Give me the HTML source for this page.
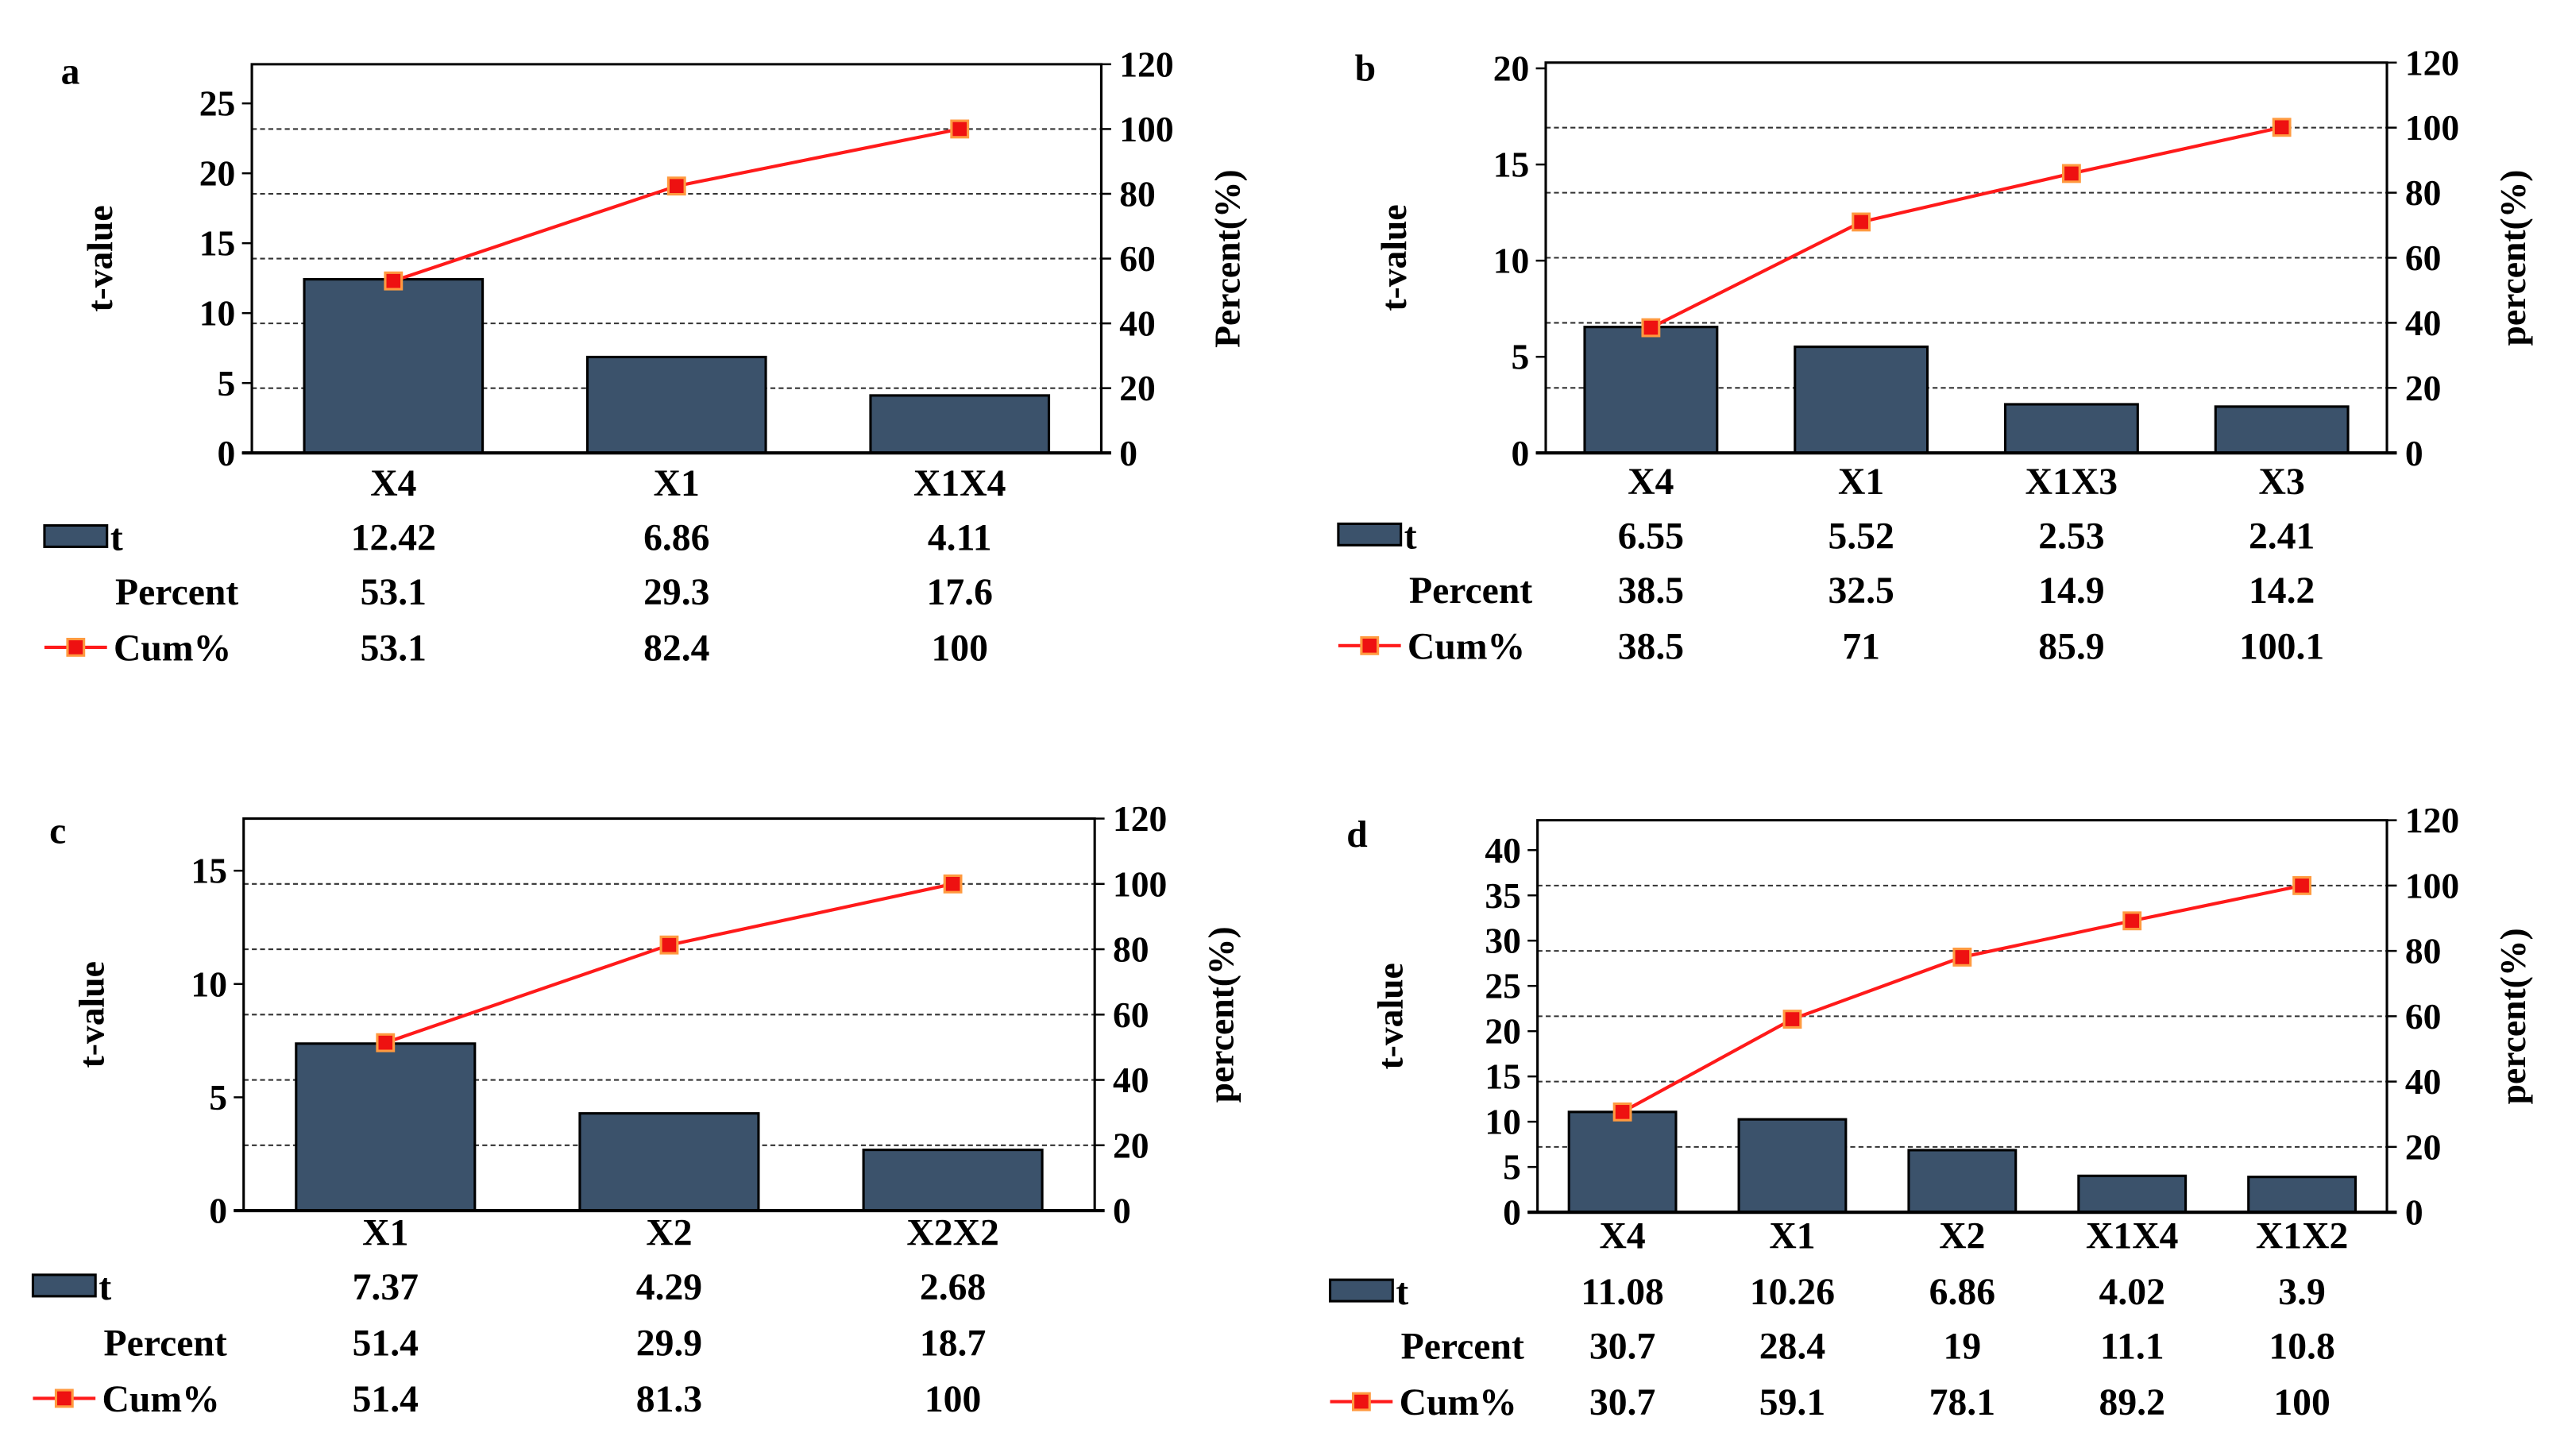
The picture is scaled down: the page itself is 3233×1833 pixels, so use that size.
<!DOCTYPE html>
<html><head><meta charset="utf-8"><style>
html,body{margin:0;padding:0;background:#fff;}
svg{display:block;}
text{font-family:"Liberation Serif",serif;font-weight:bold;fill:#000;}
</style></head><body>
<svg id="fig" width="3233" height="1833" viewBox="0 0 1560 884" preserveAspectRatio="none" xmlns="http://www.w3.org/2000/svg"></svg>
<script>
// Panel a data
const catsA = ["X4","X1","X1X4"];
const tA = [12.42,6.86,4.11];
const pctA = ["53.1","29.3","17.6"];
const cumA = [53.1,82.4,100];
const cumLblA = ["53.1","82.4","100"];
const leftTicksA = [0,5,10,15,20,25];
// Panel b data
const catsB = ["X4","X1","X1X3","X3"];
const tB = [6.55,5.52,2.53,2.41];
const pctB = ["38.5","32.5","14.9","14.2"];
const cumB = [38.5,71,85.9,100.1];
const cumLblB = ["38.5","71","85.9","100.1"];
const leftTicksB = [0,5,10,15,20];
// Panel c data
const catsC = ["X1","X2","X2X2"];
const tC = [7.37,4.29,2.68];
const pctC = ["51.4","29.9","18.7"];
const cumC = [51.4,81.3,100];
const cumLblC = ["51.4","81.3","100"];
const leftTicksC = [0,5,10,15];
// Panel d data
const catsD = ["X4","X1","X2","X1X4","X1X2"];
const tD = [11.08,10.26,6.86,4.02,3.9];
const pctD = ["30.7","28.4","19","11.1","10.8"];
const cumD = [30.7,59.1,78.1,89.2,100];
const cumLblD = ["30.7","59.1","78.1","89.2","100"];
const leftTicksD = [0,5,10,15,20,25,30,35,40];
const rightTicks = [0,20,40,60,80,100,120];

const NS="http://www.w3.org/2000/svg";
const svg=document.getElementById('fig');
function mk(tag,attrs,parent){const e=document.createElementNS(NS,tag);for(const k in attrs)e.setAttribute(k,attrs[k]);(parent||svg).appendChild(e);return e;}
function txt(s,attrs,parent){const e=mk('text',attrs,parent);e.textContent=s;return e;}

function panel(id,g,cats,tv,pct,cum,cumLbl,lticks,rlabel){
  const G=mk('g',{});
  
  
  const L=g.L,R=g.R,T=g.T,B=g.B;
  const yl=v=>B-(v/g.lmax)*(B-T);
  const yr=v=>B-(v/120)*(B-T);
  const bw=(R-L)/cats.length;
  const xc=i=>L+bw*(i+0.5);
  rightTicks.forEach(v=>{if(v>0&&v<120){const l=mk('line',{x1:L,x2:R,y1:yr(v),y2:yr(v),stroke:'#333','stroke-width':1,'stroke-dasharray':'3,2'},G);
    }});
  tv.forEach((v,i)=>{const w=bw*0.63;const r=mk('rect',{x:xc(i)-w/2,y:yl(v),width:w,height:B-yl(v),fill:'#3b526b',stroke:'#000','stroke-width':1.5},G);
    });
  mk('polyline',{points:`${L},${B} ${L},${T} ${R},${T} ${R},${B}`,fill:'none',stroke:'#000','stroke-width':1.5},G);
  mk('line',{x1:L-6,x2:R+6,y1:B,y2:B,stroke:'#000','stroke-width':2},G);
  lticks.forEach(v=>{mk('line',{x1:L-6,x2:L,y1:yl(v),y2:yl(v),stroke:'#000','stroke-width':1.2},G);
    const t=txt(String(v),{x:L-10,y:yl(v)+7.5,'text-anchor':'end','font-size':22},G);
    });
  rightTicks.forEach(v=>{mk('line',{x1:R,x2:R+6,y1:yr(v),y2:yr(v),stroke:'#000','stroke-width':1.2},G);
    const t=txt(String(v),{x:R+11,y:yr(v)+7.5,'text-anchor':'start','font-size':22},G);
    });
  const ym=(T+B)/2;
  const lt=txt('t-value',{x:g.ltx,y:ym,'text-anchor':'middle','font-size':22,transform:`rotate(-90 ${g.ltx} ${ym})`},G);
  
  const rx=R+84;
  const rt=txt(rlabel,{x:rx,y:ym,'text-anchor':'middle','font-size':22,transform:`rotate(-90 ${rx} ${ym})`},G);
  
  const pl=txt(id,{x:g.lx,y:g.ly,'font-size':23},G);
  
  const pts=cum.map((v,i)=>`${xc(i)},${yr(v)}`).join(' ');
  const ln=mk('polyline',{points:pts,fill:'none',stroke:'#ff1a1a','stroke-width':2},G);
  
  cum.forEach((v,i)=>{const m=mk('rect',{x:xc(i)-5,y:yr(v)-5,width:10,height:10,fill:'#ee1111',stroke:'#ff9a40','stroke-width':1.5},G);
    });
  const rows=g.rows;
  cats.forEach((c,i)=>{
    let t=txt(c,{x:xc(i),y:rows[0],'text-anchor':'middle','font-size':23},G);
    
    t=txt(String(tv[i]),{x:xc(i),y:rows[1],'text-anchor':'middle','font-size':23},G);
    
    t=txt(pct[i],{x:xc(i),y:rows[2],'text-anchor':'middle','font-size':23},G);
    
    t=txt(cumLbl[i],{x:xc(i),y:rows[3],'text-anchor':'middle','font-size':23},G);
    
  });
  const x0=g.tx;
  const lb=mk('rect',{x:x0,y:rows[1]-15,width:38,height:13,fill:'#3b526b',stroke:'#000','stroke-width':1.5},G);
  
  let t=txt('t',{x:x0+40,y:rows[1],'font-size':23},G);
  
  t=txt('Percent',{x:x0+43,y:rows[2],'font-size':23},G);
  
  mk('line',{x1:x0,x2:x0+38,y1:rows[3]-8,y2:rows[3]-8,stroke:'#ff1a1a','stroke-width':2},G);
  mk('rect',{x:x0+14,y:rows[3]-13,width:10,height:10,fill:'#ee1111',stroke:'#ff9a40','stroke-width':1.5},G);
  t=txt('Cum%',{x:x0+42,y:rows[3],'font-size':23},G);
  
}

panel('a',{L:153,R:669,T:39,B:275,lmax:27.8,ltx:68,lx:37,ly:51,tx:27,rows:[301,334,367,401]},catsA,tA,pctA,cumA,cumLblA,leftTicksA,'Percent(%)');
panel('b',{L:939,R:1450,T:38,B:275,lmax:20.3,ltx:854,lx:823,ly:49,tx:813,rows:[300,333,366,400]},catsB,tB,pctB,cumB,cumLblB,leftTicksB,'percent(%)');
panel('c',{L:148,R:665,T:497,B:735,lmax:17.3,ltx:63,lx:30,ly:512,tx:20,rows:[756,789,823,857]},catsC,tC,pctC,cumC,cumLblC,leftTicksC,'percent(%)');
panel('d',{L:934,R:1450,T:498,B:736,lmax:43.3,ltx:852,lx:818,ly:514,tx:808,rows:[758,792,825,859]},catsD,tD,pctD,cumD,cumLblD,leftTicksD,'percent(%)');
</script>
</body></html>
